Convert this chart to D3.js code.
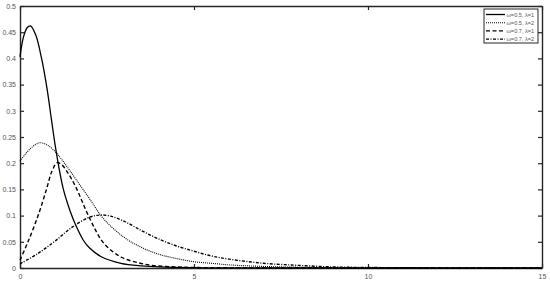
<!DOCTYPE html>
<html>
<head>
<meta charset="utf-8">
<script src="https://cdn.jsdelivr.net/npm/d3@7"></script>
<style>
  body { margin: 0; background: #fff; }
  svg { display: block; font-family: "Liberation Sans", Arial, sans-serif; }
</style>
</head>
<body>
<div id="chart"></div>
<script>
// values
const xTicks = [0, 5, 10, 15];
const yTicks = [0, 0.05, 0.1, 0.15, 0.2, 0.25, 0.3, 0.35, 0.4, 0.45, 0.5];
const seriesLabels = ['\u03c9=0.5, \u03bb=1', '\u03c9=0.5, \u03bb=2', '\u03c9=0.7, \u03bb=1', '\u03c9=0.7, \u03bb=2'];

const aX1 = [0, 0.1, 0.2, 0.3, 0.45, 0.62, 0.77, 0.9, 1.04, 1.24, 1.45, 1.62, 1.82, 2.0, 2.35, 2.9, 3.5, 4, 5, 6, 8, 15];
const aY1 = [0.403, 0.441, 0.458, 0.462, 0.445, 0.40, 0.345, 0.285, 0.222, 0.152, 0.107, 0.079, 0.053, 0.038, 0.021, 0.009, 0.004, 0.002, 0.0006, 0.0002, 0, 0];

const aX2 = [0, 0.3, 0.57, 0.8, 1.04, 1.3, 1.6, 2.0, 2.4, 3.0, 3.5, 4.0, 4.5, 5, 5.5, 6, 7, 8, 10, 15];
const aY2 = [0.204, 0.228, 0.239, 0.234, 0.220, 0.198, 0.170, 0.132, 0.094, 0.058, 0.039, 0.026, 0.018, 0.012, 0.009, 0.006, 0.003, 0.0015, 0.0004, 0];

const bX1 = [0, 0.23, 0.52, 0.76, 0.92, 1.07, 1.2, 1.38, 1.6, 2.0, 2.4, 2.9, 3.4, 3.8, 4.5, 5, 6, 15];
const bY1 = [0.015, 0.05, 0.10, 0.15, 0.185, 0.201, 0.197, 0.181, 0.155, 0.095, 0.048, 0.021, 0.010, 0.005, 0.002, 0.001, 0.0003, 0];

const bX2 = [0, 0.5, 1.0, 1.5, 2.0, 2.3, 2.6, 3.0, 3.5, 4.0, 4.5, 5.0, 5.5, 6, 7, 8, 9, 10, 12, 15];
const bY2 = [0.008, 0.027, 0.051, 0.078, 0.097, 0.101, 0.099, 0.089, 0.071, 0.055, 0.042, 0.032, 0.023, 0.017, 0.009, 0.005, 0.002, 0.001, 0.0003, 0];

const width = 550, height = 283;
const margin = {top: 6, right: 8, bottom: 15, left: 20};

const svg = d3.select('#chart').append('svg')
    .attr('width', width)
    .attr('height', height);

const x = d3.scaleLinear().domain([0, 15]).range([margin.left, width - margin.right]);
const y = d3.scaleLinear().domain([0, 0.5]).range([height - margin.bottom, margin.top]);

const axisColor = '#262626';
const labelColor = '#555';

// box-style axes, ticks pointing inward
const gx = svg.append('g')
    .attr('transform', `translate(0,${y(0)})`)
    .call(d3.axisBottom(x).tickValues(xTicks).tickSizeInner(-4).tickSizeOuter(0).tickPadding(6).tickFormat(d3.format('d')));
const gxTop = svg.append('g')
    .attr('transform', `translate(0,${y(0.5)})`)
    .call(d3.axisTop(x).tickValues(xTicks).tickSizeInner(-4).tickSizeOuter(0).tickFormat(''));
const gy = svg.append('g')
    .attr('transform', `translate(${x(0)},0)`)
    .call(d3.axisLeft(y).tickValues(yTicks).tickSizeInner(-4).tickSizeOuter(0).tickPadding(4).tickFormat(d => d3.format('~g')(d)));
const gyRight = svg.append('g')
    .attr('transform', `translate(${x(15)},0)`)
    .call(d3.axisRight(y).tickValues(yTicks).tickSizeInner(-4).tickSizeOuter(0).tickFormat(''));

[gx, gxTop, gy, gyRight].forEach(g => {
    g.select('.domain').attr('stroke', axisColor).attr('stroke-width', 1.4);
    g.selectAll('.tick line').attr('stroke', axisColor).attr('stroke-width', 1.2);
    g.selectAll('.tick text').attr('fill', labelColor).attr('font-size', 7);
});

const line = d3.line()
    .x(d => x(d[0]))
    .y(d => y(Math.max(0, d[1])))
    .curve(d3.curveCatmullRom.alpha(0.5));

const series = [
    {xs: aX1, ys: aY1, dash: null, w: 1.3},
    {xs: aX2, ys: aY2, dash: '1,1', w: 1.1},
    {xs: bX1, ys: bY1, dash: '4,2.5', w: 1.4},
    {xs: bX2, ys: bY2, dash: '3,1.5,1,1.5', w: 1.4}
];

svg.append('g').selectAll('path')
    .data(series)
    .join('path')
    .attr('fill', 'none')
    .attr('stroke', '#000')
    .attr('stroke-width', d => d.w)
    .attr('stroke-dasharray', d => d.dash)
    .attr('d', d => line(d.xs.map((v, i) => [v, d.ys[i]])));

// legend
const legend = svg.append('g').attr('transform', 'translate(484,9)');
legend.append('rect')
    .attr('width', 54).attr('height', 34)
    .attr('fill', '#fff')
    .attr('stroke', axisColor).attr('stroke-width', 1);
const rows = legend.selectAll('g.row')
    .data(series)
    .join('g')
    .attr('class', 'row')
    .attr('transform', (d, i) => `translate(0,${5.5 + i * 8.2})`);
rows.append('line')
    .attr('x1', 2).attr('x2', 21)
    .attr('stroke', '#000')
    .attr('stroke-width', d => d.w)
    .attr('stroke-dasharray', d => d.dash);
rows.append('text')
    .attr('x', 22.5).attr('y', 2)
    .attr('font-size', 5.6)
    .attr('fill', labelColor)
    .text((d, i) => seriesLabels[i]);
</script>
</body>
</html>
